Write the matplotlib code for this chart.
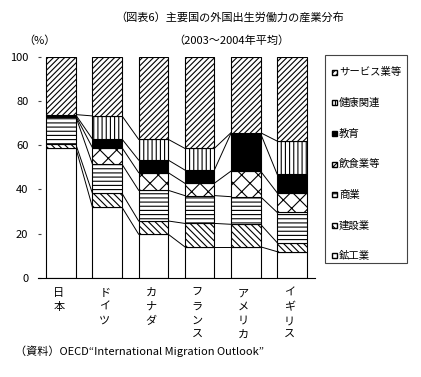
import matplotlib
matplotlib.use("Agg")
import matplotlib.pyplot as plt
import numpy as np
from matplotlib.patches import Rectangle

plt.rcParams['font.family'] = ['Noto Sans CJK JP', 'DejaVu Sans']
plt.rcParams['hatch.linewidth'] = 0.8

countries = ["日本", "ドイツ", "カナダ", "フランス", "アメリカ", "イギリス"]
series_names = ["鉱工業", "建設業", "商業", "飲食業等", "教育", "健康関連", "サービス業等"]
mining   = [58.7, 31.9, 19.7, 14.0, 14.0, 11.8]
constr   = [1.7, 6.3, 6.0, 10.6, 10.2, 4.1]
commerce = [12.5, 13.2, 13.9, 12.6, 12.5, 13.7]
food     = [0.3, 7.5, 8.0, 5.6, 11.6, 8.9]
educ     = [0.5, 3.9, 5.7, 6.0, 17.1, 8.4]
health   = [0.2, 10.5, 9.4, 9.8, 0.3, 15.0]
service  = [26.1, 26.7, 37.3, 41.4, 34.3, 38.1]
yticks = [0, 20, 40, 60, 80, 100]

data = [mining, constr, commerce, food, educ, health, service]
styles = [
    dict(facecolor="white", hatch=None),
    dict(facecolor="white", hatch="\\\\\\\\\\"),
    dict(facecolor="white", hatch="----"),
    dict(facecolor="white", hatch="xx"),
    dict(facecolor="black", hatch=None),
    dict(facecolor="white", hatch="||||"),
    dict(facecolor="white", hatch="//////"),
]

W, H = 421, 377
fig = plt.figure(figsize=(W/100, H/100), dpi=100)
ax = fig.add_axes([38/W, 1-277.7/H, (315-38)/W, (277.7-57)/H])

x = np.arange(len(countries))
w = 0.64
bottom = np.zeros(len(countries))
for name, vals, st in zip(series_names, data, styles):
    vals = np.array(vals)
    ax.bar(x, vals, w, bottom=bottom, facecolor=st["facecolor"], hatch=st["hatch"],
           edgecolor="black", linewidth=0.8, zorder=2)
    top = bottom + vals
    if name != series_names[-1]:
        for i in range(len(x) - 1):
            ax.plot([x[i] + w/2, x[i+1] - w/2], [top[i], top[i+1]], color="black", lw=0.7, zorder=1)
    bottom = top

ax.set_xlim(-0.5, len(countries) - 0.5)
ax.set_ylim(0, 100)
ax.set_yticks(yticks)
ax.set_yticklabels([str(t) for t in yticks], fontsize=8)
ax.tick_params(axis='y', direction='in', length=2.5, pad=7, color="#444444")
ax.set_xticks(x - 0.05)
ax.set_xticklabels(["\n".join(c) for c in countries], fontsize=8, linespacing=1.48, va="top")
ax.tick_params(axis='x', length=0, pad=7.5)
for s in ["top", "right", "left"]:
    ax.spines[s].set_visible(False)
ax.spines["bottom"].set_linewidth(0.8)

# legend (drawn manually, reversed order)
box_l, box_r, box_t, box_b = 325, 406.7, 55, 263
fig.patches.append(Rectangle((box_l/W, 1-box_b/H), (box_r-box_l)/W, (box_b-box_t)/H,
                             transform=fig.transFigure, facecolor="white",
                             edgecolor="#444444", linewidth=0.8))
for k, idx in enumerate(range(len(series_names)-1, -1, -1)):
    yc = 72.3 + k*30.6
    st = styles[idx]
    fig.patches.append(Rectangle((331.5/W, 1-(yc+2.5)/H), 5/W, 5/H, transform=fig.transFigure,
                                 facecolor=st["facecolor"], hatch=st["hatch"],
                                 edgecolor="black", linewidth=1.0))
    fig.text(339/W, 1-yc/H, series_names[idx], ha="left", va="center", fontsize=7.5)

fig.text(230/W, 1-17/H, "（図表6）主要国の外国出生労働力の産業分布", ha="center", va="center", fontsize=8)
fig.text(231/W, 1-40.7/H, "（2003～2004年平均）", ha="center", va="center", fontsize=8)
fig.text(23/W, 1-40.7/H, "（%）", ha="left", va="center", fontsize=8)
fig.text(15/W, 1-351.7/H, "（資料）OECD“International Migration Outlook”", ha="left", va="center", fontsize=8)

fig.savefig("out.png", dpi=100)
